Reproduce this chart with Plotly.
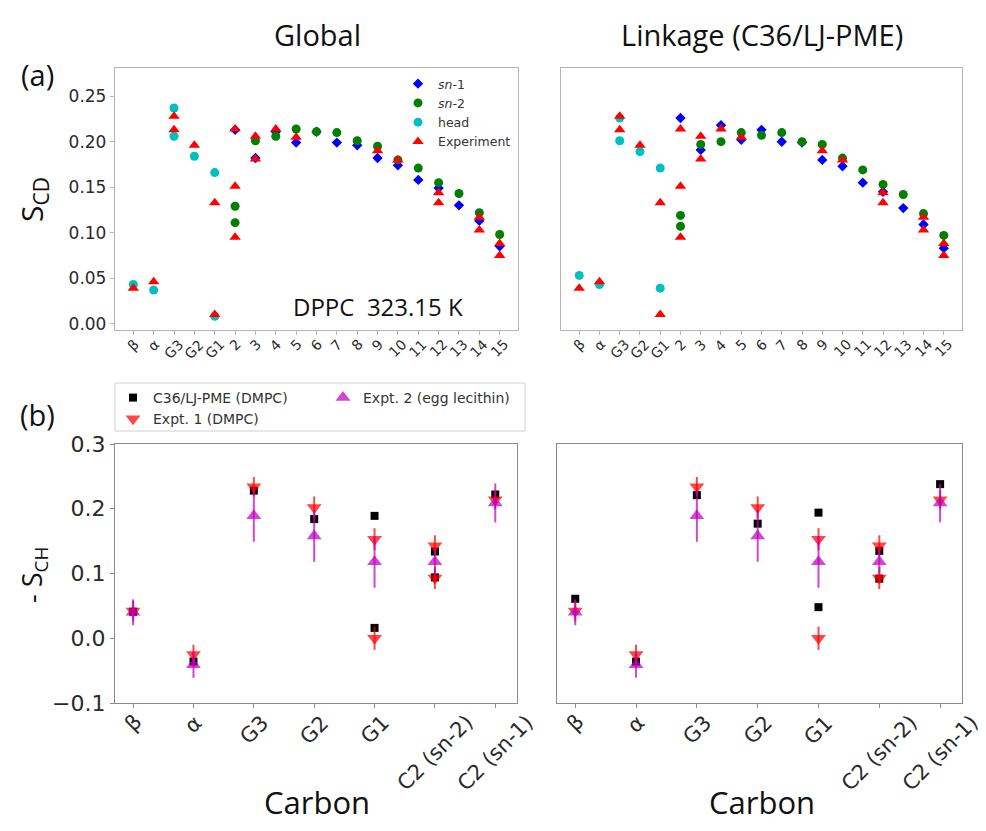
import plotly.graph_objects as go

W, H = 986, 831
OFF = 8  # page body margin compensation

def fx(px):
    return (px - OFF) / W

def fy(py):
    return 1 - (py - OFF) / H

# ---------------- data ----------------
TOP_CATS = ["β", "α", "G3", "G2", "G1", "2", "3", "4", "5", "6", "7", "8",
            "9", "10", "11", "12", "13", "14", "15"]
BOT_CATS = ["β", "α", "G3", "G2", "G1", "C2 (sn-2)", "C2 (sn-1)"]

chain_x = ["2", "3", "4", "5", "6", "7", "8", "9", "10", "11", "12", "13", "14", "15"]
chain2_x = ["2", "2", "3", "4", "5", "6", "7", "8", "9", "10", "11", "12", "13", "14", "15"]
head_x = ["β", "α", "G3", "G3", "G2", "G1", "G1"]

glob_sn1_y = [0.213, 0.182, 0.211, 0.199, 0.211, 0.199, 0.196, 0.182, 0.174, 0.158, 0.149, 0.130, 0.113, 0.085]
glob_sn2_y = [0.129, 0.111, 0.201, 0.206, 0.214, 0.211, 0.210, 0.201, 0.195, 0.180, 0.171, 0.155, 0.143, 0.122, 0.098]
glob_head_y = [0.043, 0.037, 0.237, 0.206, 0.184, 0.166, 0.008]

link_sn1_y = [0.226, 0.191, 0.218, 0.202, 0.213, 0.200, 0.199, 0.180, 0.173, 0.155, 0.145, 0.127, 0.109, 0.083]
link_sn2_y = [0.119, 0.107, 0.197, 0.200, 0.210, 0.207, 0.210, 0.200, 0.197, 0.182, 0.169, 0.153, 0.142, 0.121, 0.097]
link_head_y = [0.053, 0.043, 0.226, 0.201, 0.189, 0.171, 0.039]

exp_cd_x = ["β", "α", "G3", "G3", "G2", "G1", "G1", "2", "2", "2", "3", "3", "4", "5",
            "9", "10", "12", "12", "14", "14", "15", "15"]
exp_cd_y = [0.039, 0.046, 0.228, 0.213, 0.196, 0.133, 0.010, 0.214, 0.151, 0.095, 0.206,
            0.181, 0.214, 0.205, 0.190, 0.180, 0.144, 0.133, 0.117, 0.103, 0.088, 0.075]

c36_x = ["β", "α", "G3", "G2", "G1", "G1", "C2 (sn-2)", "C2 (sn-2)", "C2 (sn-1)"]
glob_c36_y = [0.041, -0.036, 0.228, 0.184, 0.189, 0.016, 0.134, 0.094, 0.222]
link_c36_y = [0.061, -0.036, 0.221, 0.177, 0.194, 0.048, 0.135, 0.092, 0.238]

expt1_x = ["β", "α", "G3", "G2", "G1", "G1", "C2 (sn-2)", "C2 (sn-2)", "C2 (sn-1)"]
expt1_y = [0.042, -0.025, 0.234, 0.202, 0.153, 0.000, 0.143, 0.093, 0.214]
expt1_err = [0.016, 0.015, 0.015, 0.017, 0.017, 0.018, 0.016, 0.017, 0.015]

expt2_x = ["β", "α", "G3", "G2", "G1", "C2 (sn-2)", "C2 (sn-1)"]
expt2_y = [0.040, -0.041, 0.189, 0.158, 0.118, 0.118, 0.209]
expt2_err = [0.020, 0.020, 0.040, 0.040, 0.040, 0.020, 0.030]

# ---------------- styles ----------------
BLUE = "#0000ff"
GREEN = "#008000"
CYAN = "#00bfbf"
RED = "#ff0000"
RED_A = "rgba(255,0,0,0.72)"
MAG_A = "rgba(191,0,191,0.72)"
TICKFONT = "DejaVu Sans"
BIGFONT = "Open Sans"
TXT = "#2a2a2a"

fig = go.Figure()

def top_panel(xa, ya, sn1, sn2, head, show):
    fig.add_trace(go.Scatter(x=chain_x, y=sn1, mode="markers", name="<i>sn</i>-1",
                             marker=dict(symbol="diamond", size=8, color=BLUE),
                             xaxis=xa, yaxis=ya, showlegend=show, legend="legend"))
    fig.add_trace(go.Scatter(x=chain2_x, y=sn2, mode="markers", name="<i>sn</i>-2",
                             marker=dict(symbol="circle", size=9, color=GREEN),
                             xaxis=xa, yaxis=ya, showlegend=show, legend="legend"))
    fig.add_trace(go.Scatter(x=head_x, y=head, mode="markers", name="head",
                             marker=dict(symbol="circle", size=9, color=CYAN),
                             xaxis=xa, yaxis=ya, showlegend=show, legend="legend"))
    fig.add_trace(go.Scatter(x=exp_cd_x, y=exp_cd_y, mode="markers", name="Experiment",
                             marker=dict(symbol="triangle-up", size=10, color=RED),
                             xaxis=xa, yaxis=ya, showlegend=show, legend="legend"))

def bot_panel(xa, ya, c36, show):
    fig.add_trace(go.Scatter(x=c36_x, y=c36, mode="markers", name="C36/LJ-PME (DMPC)",
                             marker=dict(symbol="square", size=8, color="black"),
                             xaxis=xa, yaxis=ya, showlegend=show, legend="legend2"))
    fig.add_trace(go.Scatter(x=expt1_x, y=expt1_y, mode="markers", name="Expt. 1 (DMPC)",
                             marker=dict(symbol="triangle-down", size=13, color=RED_A),
                             error_y=dict(type="data", array=expt1_err, visible=True,
                                          color=RED_A, thickness=2, width=0),
                             xaxis=xa, yaxis=ya, showlegend=show, legend="legend2"))
    fig.add_trace(go.Scatter(x=expt2_x, y=expt2_y, mode="markers", name="Expt. 2 (egg lecithin)",
                             marker=dict(symbol="triangle-up", size=13, color=MAG_A),
                             error_y=dict(type="data", array=expt2_err, visible=True,
                                          color=MAG_A, thickness=2, width=0),
                             xaxis=xa, yaxis=ya, showlegend=show, legend="legend3"))

top_panel("x", "y", glob_sn1_y, glob_sn2_y, glob_head_y, True)
top_panel("x2", "y2", link_sn1_y, link_sn2_y, link_head_y, False)
bot_panel("x3", "y3", glob_c36_y, True)
bot_panel("x4", "y4", link_c36_y, False)

TOP_LINE = "#b5b5b5"
BOT_LINE = "#8a8a8a"

def xax(dom, anchor, cats, rng, line):
    return dict(domain=dom, anchor=anchor, type="category", categoryorder="array",
                categoryarray=cats, tickmode="array", tickvals=cats, showticklabels=False,
                range=rng, showline=True, mirror=True, linecolor=line,
                linewidth=1.3, ticks="outside", ticklen=4, tickcolor=line, showgrid=False,
                zeroline=False, automargin=False)

def yax(dom, anchor, rng, tickvals, ticktext, size, line, labels):
    return dict(domain=dom, anchor=anchor, range=rng, tickmode="array", tickvals=tickvals,
                ticktext=ticktext, showline=True, mirror=True, linecolor=line, linewidth=1.3,
                ticks="outside" if labels else "", ticklen=4, tickcolor=line,
                showgrid=False, zeroline=False, showticklabels=labels, automargin=False,
                tickfont=dict(family=TICKFONT, size=size, color=TXT))

top_yv = [0.0, 0.05, 0.10, 0.15, 0.20, 0.25]
top_yt = ["0.00", "0.05", "0.10", "0.15", "0.20", "0.25"]
bot_yv = [-0.1, 0.0, 0.1, 0.2, 0.3]
bot_yt = ["\u22120.1", "0.0", "0.1", "0.2", "0.3"]

TOP_YR = [-0.007, 0.281]
BOT_YR = [-0.1, 0.3]

fig.update_layout(
    width=W, height=H, margin=dict(l=0, r=0, t=0, b=0, autoexpand=False),
    paper_bgcolor="white", plot_bgcolor="white",
    xaxis=xax([fx(115), fx(518)], "y", TOP_CATS, [-0.9, 18.9], TOP_LINE),
    yaxis=yax([fy(330), fy(68)], "x", TOP_YR, top_yv, top_yt, 17, TOP_LINE, True),
    xaxis2=xax([fx(561), fx(962)], "y2", TOP_CATS, [-0.9, 18.9], TOP_LINE),
    yaxis2=yax([fy(330), fy(68)], "x2", TOP_YR, top_yv, top_yt, 17, TOP_LINE, False),
    xaxis3=xax([fx(115), fx(517)], "y3", BOT_CATS, [-0.3, 6.36], BOT_LINE),
    yaxis3=yax([fy(703), fy(444)], "x3", BOT_YR, bot_yv, bot_yt, 22, BOT_LINE, True),
    xaxis4=xax([fx(557), fx(962)], "y4", BOT_CATS, [-0.3, 6.36], BOT_LINE),
    yaxis4=yax([fy(703), fy(444)], "x4", BOT_YR, bot_yv, bot_yt, 22, BOT_LINE, False),
    legend=dict(x=fx(398), y=fy(69), xanchor="left", yanchor="top",
                bgcolor="rgba(0,0,0,0)", borderwidth=0,
                font=dict(family=TICKFONT, size=12.5, color="#333")),
    legend2=dict(x=fx(113), y=fy(382), xanchor="left", yanchor="top",
                 bgcolor="rgba(0,0,0,0)", borderwidth=0,
                 font=dict(family=TICKFONT, size=14, color="#333")),
    legend3=dict(x=fx(323), y=fy(382), xanchor="left", yanchor="top",
                 bgcolor="rgba(0,0,0,0)", borderwidth=0,
                 font=dict(family=TICKFONT, size=14, color="#333")),
    showlegend=True,
)

fig.add_shape(type="rect", xref="paper", yref="paper",
              x0=fx(115), x1=fx(525), y0=fy(431), y1=fy(383),
              line=dict(color="#d0d0d0", width=1), fillcolor="rgba(0,0,0,0)", layer="below")

# rotated category labels, centred under each tick (matplotlib style);
# x is the category index on the category axis
def cat_labels(xref, cats, ytop, size):
    for i, c in enumerate(cats):
        fig.add_annotation(text=c, x=i, xref=xref, y=fy(ytop), yref="paper",
                           showarrow=False, textangle=-45, xanchor="center", yanchor="top",
                           borderpad=0, font=dict(family=TICKFONT, size=size, color=TXT))

cat_labels("x", TOP_CATS, 335, 14)
cat_labels("x2", TOP_CATS, 335, 14)
cat_labels("x3", BOT_CATS, 709, 21)
cat_labels("x4", BOT_CATS, 709, 21)

def ann(text, x, y, size, angle=0):
    fig.add_annotation(text=text, x=fx(x), y=fy(y), xref="paper", yref="paper",
                       showarrow=False, textangle=angle, xanchor="center", yanchor="middle",
                       font=dict(family=BIGFONT, size=size, color="#111"))

ann("Global", 317, 34, 29)
ann("Linkage (C36/LJ-PME)", 762, 34, 29)
ann("(a)", 37, 74, 29)
ann("(b)", 37, 414, 29)
ann("S<sub>CD</sub>", 33, 200, 30, -90)
ann("- S<sub>CH</sub>", 33, 575, 27, -90)
ann("DPPC  323.15 K", 378, 307, 24)
ann("Carbon", 317, 802, 31)
ann("Carbon", 762, 802, 31)

fig.write_html("out.html")
